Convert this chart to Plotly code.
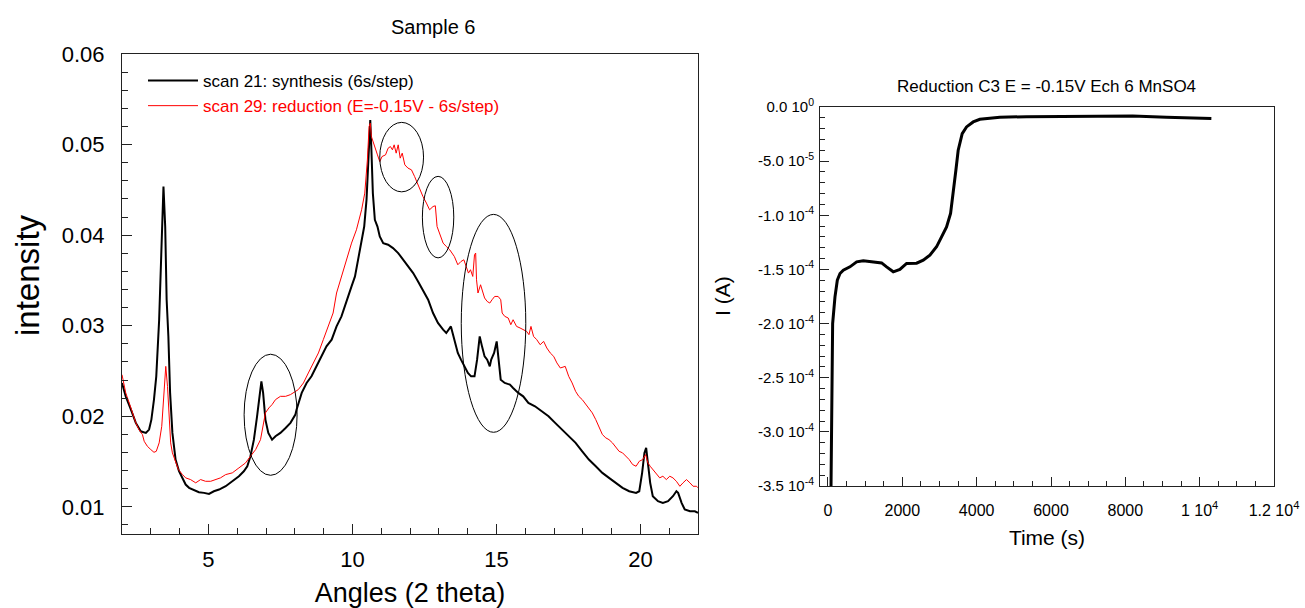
import plotly.graph_objects as go

# ---------------- Left chart data (XRD scans) ----------------
black_x = [2.00, 2.13, 2.31, 2.48, 2.65, 2.83, 2.94, 3.02, 3.11, 3.19, 3.29, 3.37, 3.44, 3.50, 3.55, 3.61,
           3.67, 3.75, 3.86, 3.98, 4.10, 4.21, 4.33, 4.50, 4.67, 4.85, 5.02, 5.19, 5.37, 5.60, 5.83, 6.06,
           6.23, 6.35, 6.46, 6.58, 6.69, 6.78, 6.84, 6.90, 6.98, 7.08, 7.21, 7.33, 7.50, 7.68, 7.85, 8.02,
           8.06, 8.24, 8.41, 8.58, 8.76, 8.93, 9.10, 9.28, 9.45, 9.62, 9.80, 9.97, 10.09, 10.20, 10.32,
           10.41, 10.49, 10.55, 10.59, 10.62, 10.66, 10.71, 10.78, 10.87, 10.95, 11.07, 11.24, 11.41, 11.59,
           11.76, 11.93, 12.11, 12.28, 12.45, 12.63, 12.80, 12.97, 13.15, 13.26,
           13.42, 13.54, 13.66, 13.77, 13.89, 14.01, 14.12, 14.24, 14.33, 14.42, 14.50, 14.59, 14.68, 14.77,
           14.82, 14.92, 15.01, 15.08, 15.15, 15.29, 15.47, 15.58, 15.76, 15.93, 16.11, 16.34, 16.58, 16.81,
           17.04, 17.28, 17.51, 17.75, 17.98, 18.21, 18.45, 18.68, 18.91, 19.15, 19.38, 19.61, 19.85, 19.96,
           20.06, 20.14, 20.20, 20.26, 20.34, 20.43, 20.61, 20.78, 20.96, 21.13, 21.25, 21.31, 21.43, 21.54,
           21.72, 21.89, 22.00]
black_y = [0.02368, 0.02220, 0.02073, 0.01927, 0.01834, 0.01816, 0.01853, 0.01963, 0.02184, 0.02441, 0.03066,
           0.03912, 0.04537, 0.04095, 0.03287, 0.02882, 0.02258, 0.01816, 0.01522, 0.01393, 0.01320, 0.01246,
           0.01210, 0.01183, 0.01161, 0.01154, 0.01143, 0.01172, 0.01191, 0.01227, 0.01282, 0.01338, 0.01393,
           0.01448, 0.01558, 0.01742, 0.02000, 0.02258, 0.02386, 0.02258, 0.01963, 0.01816, 0.01742, 0.01779,
           0.01816, 0.01871, 0.01927, 0.02018,
           0.02073, 0.02258, 0.02368, 0.02441, 0.02551, 0.02661, 0.02772, 0.02846, 0.02992, 0.03103, 0.03287,
           0.03434, 0.03544, 0.03728, 0.03912, 0.04095, 0.04390, 0.04757, 0.05126, 0.05272, 0.04942, 0.04464,
           0.04169, 0.04095, 0.03985, 0.03912, 0.03894, 0.03857, 0.03802, 0.03728, 0.03654, 0.03581, 0.03489,
           0.03397, 0.03287, 0.03140, 0.03030, 0.02956, 0.02919,
           0.02992, 0.02846, 0.02699, 0.02625, 0.02551, 0.02478, 0.02441, 0.02441, 0.02625, 0.02882, 0.02772,
           0.02661, 0.02625, 0.02551, 0.02625, 0.02699, 0.02827, 0.02625, 0.02404, 0.02368, 0.02349, 0.02313,
           0.02258, 0.02220, 0.02147, 0.02110, 0.02055, 0.02000, 0.01927, 0.01853, 0.01779, 0.01706, 0.01613,
           0.01522, 0.01448, 0.01375, 0.01320, 0.01265, 0.01210, 0.01172, 0.01154, 0.01172, 0.01375, 0.01596,
           0.01651, 0.01485, 0.01265, 0.01117, 0.01062, 0.01044, 0.01062, 0.01117, 0.01172, 0.01154, 0.01044,
           0.00970, 0.00951, 0.00951, 0.00934]

red_x = [2.00, 2.13, 2.31, 2.48, 2.59, 2.71, 2.77, 2.88, 3.00, 3.11, 3.19, 3.29, 3.38, 3.46, 3.52, 3.58,
         3.63, 3.69, 3.75, 3.84, 3.96, 4.10, 4.21, 4.38, 4.56, 4.73, 4.90, 5.08, 5.25, 5.42, 5.60, 5.83,
         6.06, 6.29, 6.46, 6.64, 6.81, 6.90, 6.98, 7.10, 7.21, 7.33, 7.50, 7.68, 7.85,
         8.12, 8.30, 8.47, 8.64, 8.82, 8.99, 9.16, 9.33, 9.45, 9.62, 9.80, 9.97, 10.14, 10.32, 10.43, 10.52,
         10.58, 10.62, 10.66, 10.76, 10.87, 10.95, 11.03, 11.15, 11.24, 11.32, 11.39, 11.45, 11.52, 11.59,
         11.66, 11.73, 11.82, 11.93, 12.05, 12.16, 12.26, 12.34, 12.45, 12.57, 12.68, 12.80, 12.88, 12.94,
         13.03, 13.15, 13.26, 13.38,
         13.54, 13.66, 13.77, 13.87, 13.95, 14.03, 14.10, 14.18, 14.24, 14.28, 14.31, 14.36, 14.45, 14.53,
         14.59, 14.68, 14.77, 14.85, 14.94, 15.06, 15.15, 15.20, 15.29, 15.41, 15.50, 15.58, 15.70, 15.82,
         15.93, 16.05, 16.13, 16.20, 16.29, 16.40, 16.52, 16.64, 16.75, 16.87, 16.99, 17.10, 17.22, 17.39,
         17.51, 17.63, 17.75, 17.86, 17.98, 18.10, 18.21, 18.33, 18.45, 18.56, 18.68, 18.80, 18.91, 19.03,
         19.15, 19.26, 19.38, 19.50, 19.61, 19.73, 19.85, 19.96, 20.08, 20.18, 20.26, 20.34, 20.43, 20.55,
         20.67, 20.78, 20.90, 21.02, 21.13, 21.25, 21.37, 21.48, 21.60, 21.72, 21.83, 21.95, 22.00]
red_y = [0.02459, 0.02258, 0.02092, 0.01927, 0.01853, 0.01798, 0.01724, 0.01669, 0.01632, 0.01602, 0.01613,
         0.01706, 0.01889, 0.02330, 0.02551, 0.02330, 0.01963, 0.01706, 0.01596, 0.01522, 0.01411, 0.01356,
         0.01320, 0.01301, 0.01265, 0.01301, 0.01282, 0.01282, 0.01301, 0.01320, 0.01356, 0.01375, 0.01430,
         0.01485, 0.01558, 0.01632, 0.01742, 0.01889, 0.02037, 0.02092, 0.02129, 0.02184, 0.02220, 0.02220,
         0.02239,
         0.02294, 0.02368, 0.02478, 0.02589, 0.02699, 0.02846, 0.02992, 0.03140, 0.03361, 0.03544, 0.03728,
         0.03912, 0.04059, 0.04280, 0.04464, 0.04831, 0.05199, 0.05236, 0.05088, 0.04978, 0.04886, 0.04812,
         0.04868, 0.04886, 0.04960, 0.04978, 0.04942, 0.04997, 0.04905, 0.04997, 0.04850, 0.04905, 0.04776,
         0.04740, 0.04721, 0.04647, 0.04574, 0.04500, 0.04426, 0.04354, 0.04280, 0.04316, 0.04324, 0.04095,
         0.04023, 0.03912, 0.03875, 0.03838,
         0.03764, 0.03673, 0.03709, 0.03728, 0.03654, 0.03581, 0.03618, 0.03544, 0.03783, 0.03802, 0.03507,
         0.03361, 0.03452, 0.03378, 0.03306, 0.03268, 0.03250, 0.03287, 0.03323, 0.03323, 0.03287, 0.03140,
         0.03103, 0.03085, 0.03011, 0.03066, 0.02992, 0.02975, 0.02956, 0.02937, 0.02901, 0.02992, 0.02882,
         0.02846, 0.02790, 0.02827, 0.02754, 0.02699, 0.02661, 0.02589, 0.02533, 0.02551, 0.02441, 0.02368,
         0.02275, 0.02220, 0.02184, 0.02129, 0.02092, 0.02037, 0.01963, 0.01889, 0.01798, 0.01761, 0.01742,
         0.01706, 0.01651, 0.01613, 0.01596, 0.01558, 0.01522, 0.01467, 0.01448, 0.01503, 0.01522, 0.01577,
         0.01485, 0.01448, 0.01411, 0.01356, 0.01320, 0.01338, 0.01301, 0.01338, 0.01320, 0.01282, 0.01227,
         0.01265, 0.01301, 0.01265, 0.01227, 0.01227, 0.01210]

# ellipses highlighting regions (angle min, angle max, intensity min, intensity max)
ellipses = [(6.24, 8.08, 0.01348, 0.02685),
            (10.95, 12.47, 0.04478, 0.05245),
            (12.43, 13.52, 0.03749, 0.04649),
            (13.78, 16.02, 0.01823, 0.04229)]

left_xticks = [5, 10, 15, 20]
left_yticks = [0.01, 0.02, 0.03, 0.04, 0.05, 0.06]

# ---------------- Right chart data (chronoamperometry) ----------------
time_s = [80, 89, 107, 125, 188, 251, 323, 412, 591, 771, 950, 1219, 1443, 1577, 1712, 1756, 1935, 2070,
          2115, 2384, 2563, 2742, 2921, 3056, 3190, 3298, 3369, 3441, 3503, 3611, 3727, 3907, 4086, 4355,
          4624, 5341, 6237, 7200, 8199, 9105, 10315]
current_A = [-3.55e-4, -3.04e-4, -2.43e-4, -2.00e-4, -1.753e-4, -1.60e-4, -1.538e-4, -1.507e-4, -1.476e-4,
             -1.43e-4, -1.42e-4, -1.43e-4, -1.44e-4, -1.476e-4, -1.516e-4, -1.522e-4, -1.50e-4, -1.46e-4,
             -1.445e-4, -1.442e-4, -1.414e-4, -1.368e-4, -1.291e-4, -1.199e-4, -1.107e-4, -0.984e-4,
             -0.80e-4, -0.584e-4, -0.399e-4, -0.246e-4, -0.184e-4, -0.138e-4, -0.113e-4, -0.101e-4,
             -0.095e-4, -0.089e-4, -0.086e-4, -0.085e-4, -0.083e-4, -0.095e-4, -0.107e-4]

right_xtickvals = [0, 2000, 4000, 6000, 8000, 10000, 12000]
right_xticktext = ["0", "2000", "4000", "6000", "8000", "1 10<sup>4</sup>", "1.2 10<sup>4</sup>"]
right_ytickvals = [0, -5e-5, -1e-4, -1.5e-4, -2e-4, -2.5e-4, -3e-4, -3.5e-4]
right_yticktext = ["0.0 10<sup>0</sup>", "-5.0 10<sup>-5</sup>", "-1.0 10<sup>-4</sup>",
                   "-1.5 10<sup>-4</sup>", "-2.0 10<sup>-4</sup>", "-2.5 10<sup>-4</sup>",
                   "-3.0 10<sup>-4</sup>", "-3.5 10<sup>-4</sup>"]

FONT = "Liberation Sans, Arial, sans-serif"
W, H = 1305, 608


def px(x):
    return x / W


def py(y):
    return 1 - y / H


fig = go.Figure()
fig.add_trace(go.Scatter(x=black_x, y=black_y, mode="lines", name="scan 21: synthesis (6s/step)",
                         line=dict(color="black", width=2), xaxis="x", yaxis="y"))
fig.add_trace(go.Scatter(x=red_x, y=red_y, mode="lines",
                         name="<span style='color:#ff0000'>scan 29: reduction (E=-0.15V - 6s/step)</span>",
                         line=dict(color="#ff0000", width=1), xaxis="x", yaxis="y"))
fig.add_trace(go.Scatter(x=time_s, y=current_A, mode="lines", name="I", showlegend=False,
                         line=dict(color="black", width=3), xaxis="x2", yaxis="y2"))

for (a0, a1, b0, b1) in ellipses:
    fig.add_shape(type="circle", xref="x", yref="y", x0=a0, x1=a1, y0=b0, y1=b1,
                  line=dict(color="black", width=1))

axis_common = dict(showline=True, linecolor="#222", linewidth=1, mirror=True, showgrid=False,
                   zeroline=False, ticks="inside", tickcolor="#222", tickwidth=1, automargin=False)

fig.update_layout(
    width=W, height=H,
    margin=dict(l=0, r=0, t=0, b=0, autoexpand=False),
    paper_bgcolor="white", plot_bgcolor="white",
    font=dict(family=FONT, color="black"),
    showlegend=True,
    legend=dict(x=px(143), y=py(63), xanchor="left", yanchor="top", bgcolor="rgba(0,0,0,0)",
                font=dict(size=17, family=FONT), itemwidth=50, tracegroupgap=0),
    xaxis=dict(domain=[px(122), px(698)], range=[2, 22], anchor="y", tickvals=left_xticks,
               ticklen=10, ticklabelstandoff=6, tickfont=dict(size=22),
               minor=dict(dtick=1, tick0=0, ticks="inside", ticklen=6, tickcolor="#222"),
               title=dict(text="Angles (2 theta)", font=dict(size=27), standoff=14),
               **axis_common),
    yaxis=dict(domain=[py(534), py(54)], range=[0.007, 0.06], anchor="x", tickvals=left_yticks,
               tickformat=".2f", ticklen=10, ticklabelstandoff=12, tickfont=dict(size=22),
               minor=dict(dtick=0.002, tick0=0, ticks="inside", ticklen=6, tickcolor="#222"),
               **axis_common),
    xaxis2=dict(domain=[px(820), px(1274)], range=[-215, 12000], anchor="y2",
                tickvals=right_xtickvals, ticktext=right_xticktext, ticklen=9, ticklabelstandoff=10,
                tickfont=dict(size=16),
                minor=dict(dtick=500, tick0=0, ticks="inside", ticklen=5, tickcolor="#222"),
                title=dict(text="Time (s)", font=dict(size=21), standoff=12),
                **axis_common),
    yaxis2=dict(domain=[py(486), py(107)], range=[-3.5e-4, 0], anchor="x2",
                tickvals=right_ytickvals, ticktext=right_yticktext, ticklen=9, ticklabelstandoff=2,
                tickfont=dict(size=15),
                minor=dict(dtick=1e-5, tick0=0, ticks="inside", ticklen=5, tickcolor="#222"),
                **axis_common),
    annotations=[
        dict(text="Sample 6", x=px(433), y=py(27), xref="paper", yref="paper", showarrow=False,
             font=dict(size=20), xanchor="center", yanchor="middle"),
        dict(text="intensity", x=px(27), y=py(275), xref="paper", yref="paper", showarrow=False,
             textangle=-90, font=dict(size=33), xanchor="center", yanchor="middle"),
        dict(text="Reduction C3 E = -0.15V Ech 6 MnSO4", x=px(1046), y=py(87), xref="paper",
             yref="paper", showarrow=False, font=dict(size=17), xanchor="center", yanchor="middle"),
        dict(text="I (A)", x=px(722), y=py(296), xref="paper", yref="paper", showarrow=False,
             textangle=-90, font=dict(size=21), xanchor="center", yanchor="middle"),
    ],
)

fig.write_html("out.html")
